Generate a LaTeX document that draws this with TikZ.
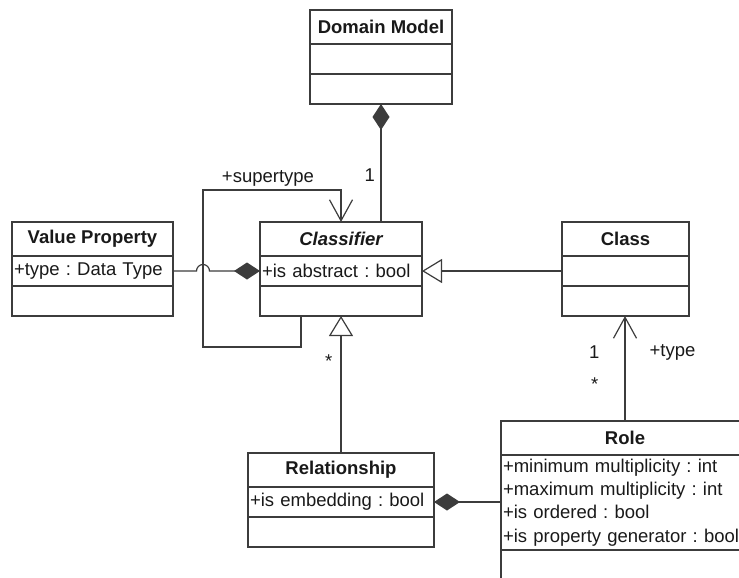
\documentclass[tikz,border=0pt]{standalone}
\usepackage{fontspec}
\setmainfont{Liberation Sans}
\usepackage{xcolor}
\usetikzlibrary{positioning,arrows.meta}

\definecolor{umlline}{RGB}{60,60,60}
\definecolor{umltext}{RGB}{25,25,25}
\newcommand{\umlfont}{\fontsize{18.5}{23.3}\selectfont\frenchspacing}

\begin{document}
\begin{tikzpicture}[
    x=1pt, y=-1pt,
    line width=1.2pt,
    font=\umlfont,
    every node/.style={text=umltext},
    classname/.style={draw=umlline, minimum width=#1, minimum height=34pt, inner sep=0pt, outer sep=0pt, font=\umlfont\bfseries},
    compartment/.style={draw=umlline, text width=#1, minimum height=30pt, inner xsep=2pt, inner ysep=0pt, outer sep=0pt, align=left},
    assoc/.style={color=umlline},
    composition/.style={assoc, {Diamond[length=26pt,width=17pt]}-},
    generalization/.style={assoc, -{Triangle[fill=white,length=20pt,width=24pt]}},
    navigable/.style={assoc, -{Straight Barb[length=21pt,width=23pt]}},
    mult/.style={inner sep=3pt}
  ]
  \path[use as bounding box, clip] (0,0) rectangle (739,578);

  % classes
  \node[classname=142pt, anchor=north west] (dm) at (310,10) {Domain Model};
  \node[compartment=138pt, below=0pt of dm] (dm-a) {};
  \node[compartment=138pt, below=0pt of dm-a] (dm-o) {};

  \node[classname=161pt, anchor=north west] (vp) at (12,222) {Value Property};
  \node[compartment=157pt, below=0pt of vp] (vp-a) {+type : Data Type};
  \node[compartment=157pt, below=0pt of vp-a] (vp-o) {};

  \node[classname=162pt, anchor=north west, font=\umlfont\bfseries\itshape] (cls) at (260,222) {Classifier};
  \node[compartment=158pt, below=0pt of cls] (cls-a) {+is abstract : bool};
  \node[compartment=158pt, below=0pt of cls-a] (cls-o) {};

  \node[classname=127pt, anchor=north west] (class) at (562,222) {Class};
  \node[compartment=123pt, below=0pt of class] (class-a) {};
  \node[compartment=123pt, below=0pt of class-a] (class-o) {};

  \node[classname=186pt, anchor=north west] (rel) at (248,453) {Relationship};
  \node[compartment=182pt, below=0pt of rel] (rel-a) {+is embedding : bool};
  \node[compartment=182pt, below=0pt of rel-a] (rel-o) {};

  \node[classname=248pt, anchor=north west] (role) at (501,421) {Role};
  \node[compartment=244pt, minimum height=95pt, below=0pt of role] (role-a) {+minimum multiplicity : int\\+maximum multiplicity : int\\+is ordered : bool\\+is property generator : bool};
  \node[compartment=244pt, below=0pt of role-a] (role-o) {};

  % supertype loop
  \coordinate (loop-bl) at (203,347);
  \coordinate (loop-tl) at (203,190);
  \coordinate (hop) at (loop-tl |- cls-a.west);

  % connectors
  \draw[composition] (dm-o.south) -- node[mult, pos=0.6, left=2.5pt] (dm-mult) {1} (dm-o.south |- cls.north);
  \draw[composition] (cls-a.west) -- ([xshift=6.5pt]hop) arc[start angle=0, end angle=180, radius=6.5pt] -- (vp-a.east);
  \draw[navigable] ([xshift=-40pt]cls-o.south) |- (loop-bl) -- (loop-tl)
    -- node[mult, above, xshift=-4pt] (st-role) {+supertype} (loop-tl -| cls.north) -- (cls.north);
  \draw[generalization] (class-a.west) -- (cls-a.east);
  \draw[generalization] (rel.north) -- node[mult, pos=0.667, left=5pt] (rel-mult) {*} (cls-o.south);
  \draw[navigable] (role.north) -- node[mult, pos=0.657, left=22pt] (type-mult) {1}
    node[mult, pos=0.35, left=23pt] (role-mult) {*}
    node[mult, pos=0.657, right=21pt] (type-role) {+type} (role.north |- class-o.south);
  \draw[composition] (rel-a.east) -- (rel-a.east -| role-a.west);
\end{tikzpicture}
\end{document}
